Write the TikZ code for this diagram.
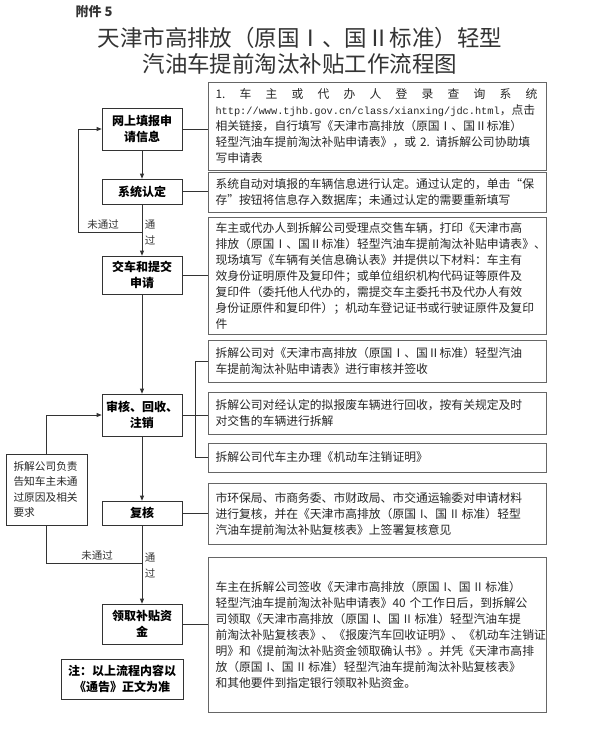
\documentclass[tikz,border=0pt]{standalone}
\usepackage{fontspec}
\setmainfont{Noto Sans CJK SC}
\newfontfamily\urlfont{Liberation Mono}
\usetikzlibrary{arrows.meta}

\begin{document}
\begin{tikzpicture}[x=1pt, y=-1pt, line width=0.7pt, color=black!80,
    stepbox/.style={draw, minimum width=80pt, align=center, inner sep=2pt, text=black,
        font=\fontsize{12}{16}\selectfont\bfseries},
    descbox/.style={draw=black!60, minimum width=338pt, text width=324pt, inner xsep=7pt,
        align=left, text=black!85, font=\fontsize{11.8}{16}\selectfont},
    flow/.style={-{Triangle[length=5pt,width=4pt]}},
    lbl/.style={text=black!80, font=\fontsize{10.5}{16}\selectfont}]
    \useasboundingbox (0,0) rectangle (600,740);

    \node[font=\fontsize{13}{16}\selectfont\bfseries] (annex) at (94,12) {附件 5};
    \node[font=\fontsize{22.5}{26}\selectfont] (title1) at (300,38) {天津市高排放（原国Ⅰ、国Ⅱ标准）轻型};
    \node[font=\fontsize{22.5}{26}\selectfont] (title2) at (300,64) {汽油车提前淘汰补贴工作流程图};

    \node[stepbox, minimum height=42pt] (apply) at (142,129) {网上填报申\\请信息};
    \node[stepbox, minimum height=25pt] (verify) at (142,191.5) {系统认定};
    \node[stepbox, minimum height=38pt] (handover) at (142,275) {交车和提交\\申请};
    \node[stepbox, minimum height=42pt] (audit) at (142,415) {审核、回收、\\注销};
    \node[stepbox, minimum height=24pt] (recheck) at (142,513) {复核};
    \node[stepbox, minimum height=40pt] (collect) at (142,624) {领取补贴资\\金};
    \node[stepbox, minimum width=122pt, minimum height=40pt] (note) at (122,679) {注：以上流程内容以\\《通告》正文为准};
    \node[draw, minimum width=81pt, minimum height=71pt, text width=66pt, inner xsep=7.5pt, align=left,
        text=black!85, font=\fontsize{10.7}{15.5}\selectfont] (inform) at (46.5,489.5)
        {拆解公司负责\\告知车主未通\\过原因及相关\\要求};

    \node[descbox, minimum height=88pt] (d1) at (377.5,126) {\makebox[322pt]{1.\hfill 车\hfill 主\hfill 或\hfill 代\hfill 办\hfill 人\hfill 登\hfill 录\hfill 查\hfill 询\hfill 系\hfill 统}\\
        {\urlfont\fontsize{10.3}{16}\selectfont http://www.tjhb.gov.cn/class/xianxing/jdc.html}，点击\\
        相关链接，自行填写《天津市高排放（原国Ⅰ、国Ⅱ标准）\\
        轻型汽油车提前淘汰补贴申请表》，或 2. 请拆解公司协助填\\
        写申请表};
    \node[descbox, minimum height=40pt] (d2) at (377.5,192) {系统自动对填报的车辆信息进行认定。通过认定的，单击“保\\
        存”按钮将信息存入数据库；未通过认定的需要重新填写};
    \node[descbox, minimum height=117pt] (d3) at (377.5,275.5) {车主或代办人到拆解公司受理点交售车辆，打印《天津市高\\
        排放（原国Ⅰ、国Ⅱ标准）轻型汽油车提前淘汰补贴申请表》、\\
        现场填写《车辆有关信息确认表》并提供以下材料：车主有\\
        效身份证明原件及复印件；或单位组织机构代码证等原件及\\
        复印件（委托他人代办的，需提交车主委托书及代办人有效\\
        身份证原件和复印件）；机动车登记证书或行驶证原件及复印\\
        件};
    \node[descbox, minimum height=42pt] (d4) at (377.5,361) {拆解公司对《天津市高排放（原国Ⅰ、国Ⅱ标准）轻型汽油\\
        车提前淘汰补贴申请表》进行审核并签收};
    \node[descbox, minimum height=42pt] (d5) at (377.5,413) {拆解公司对经认定的拟报废车辆进行回收，按有关规定及时\\
        对交售的车辆进行拆解};
    \node[descbox, minimum height=29pt] (d6) at (377.5,457.5) {拆解公司代车主办理《机动车注销证明》};
    \node[descbox, minimum height=61pt] (d7) at (377.5,513.5) {市环保局、市商务委、市财政局、市交通运输委对申请材料\\
        进行复核，并在《天津市高排放（原国 I、国 II 标准）轻型\\
        汽油车提前淘汰补贴复核表》上签署复核意见};
    \node[descbox, minimum height=155pt] (d8) at (377.5,634.5) {车主在拆解公司签收《天津市高排放（原国 I、国 II 标准）\\
        轻型汽油车提前淘汰补贴申请表》40 个工作日后，到拆解公\\
        司领取《天津市高排放（原国 I、国 II 标准）轻型汽油车提\\
        前淘汰补贴复核表》、《报废汽车回收证明》、《机动车注销证\\
        明》和《提前淘汰补贴资金领取确认书》。并凭《天津市高排\\
        放（原国 I、国 II 标准）轻型汽油车提前淘汰补贴复核表》\\
        和其他要件到指定银行领取补贴资金。};

    \draw (apply.east) -- (apply.east -| d1.west);
    \draw (verify.east) -- (verify.east -| d2.west);
    \draw (handover.east) -- (handover.east -| d3.west);
    \draw (audit.east) -- (audit.east -| d5.west);
    \draw (d4.west) -- ++(-13,0) |- (d6.west);
    \draw (recheck.east) -- (recheck.east -| d7.west);
    \draw (collect.east) -- (collect.east -| d8.west);

    \draw[flow] (apply) -- (verify);
    \draw[flow] (verify) -- (handover);
    \draw[flow] (handover) -- (audit);
    \draw[flow] (audit) -- (recheck);
    \draw[flow] (recheck) -- (collect);

    \coordinate (fail1) at (142,232);
    \draw[flow] (fail1) -- ++(-64,0) |- (apply.west);
    \node[lbl] (no1) at (103,225) {未通过};
    \node[lbl, align=center] (yes1) at (150,233) {通\\过};

    \draw[flow] (inform.north) |- (audit.west);
    \coordinate (fail2) at (142,563);
    \draw (inform.south) |- (fail2);
    \node[lbl] (no2) at (97,556) {未通过};
    \node[lbl, align=center] (yes2) at (150,565.5) {通\\过};
\end{tikzpicture}
\end{document}
